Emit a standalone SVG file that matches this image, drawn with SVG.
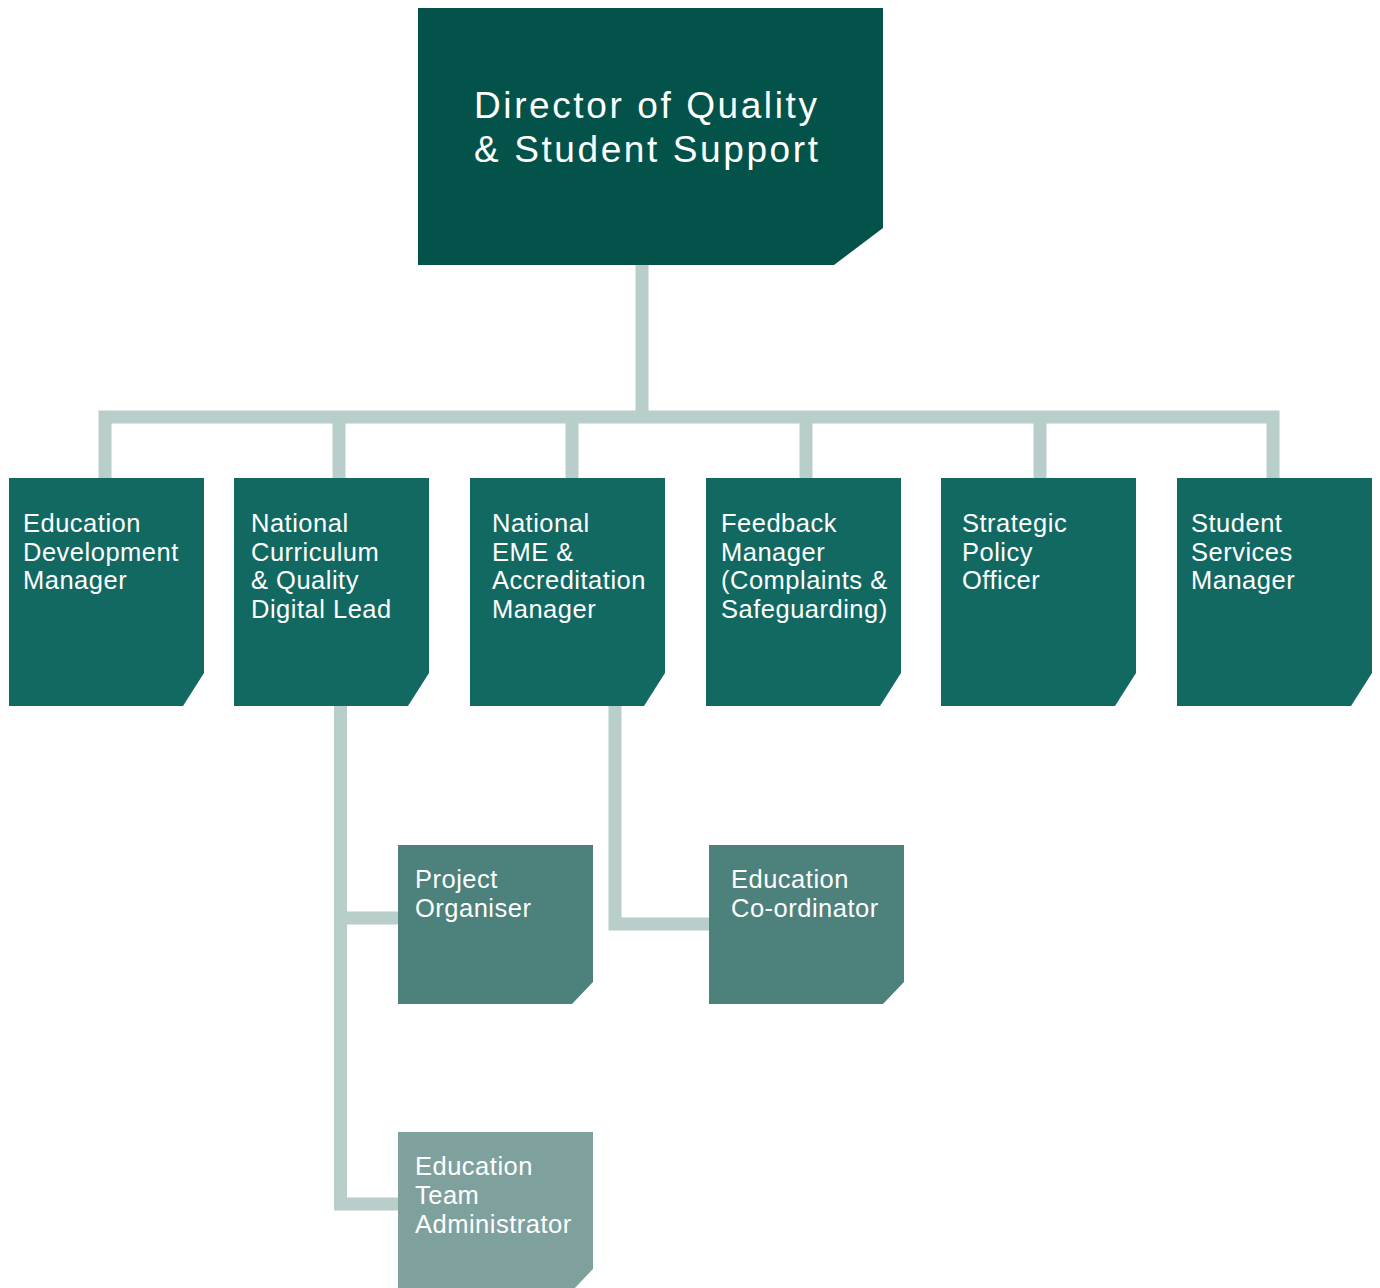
<svg xmlns="http://www.w3.org/2000/svg" width="1380" height="1288" viewBox="0 0 1380 1288">
<style>
.c{fill:none;stroke:#b8ceca;stroke-width:13;stroke-linejoin:miter;stroke-linecap:butt}
.t{font-family:"Liberation Sans",Arial,sans-serif;fill:#ffffff}
.top{font-size:37px;letter-spacing:2.6px}
.s{font-size:25.5px;letter-spacing:0.5px}
.l1{fill:#03534b}.l2{fill:#126962}.l3{fill:#4d817c}.l4{fill:#7fa19e}
</style>
<rect width="1380" height="1288" fill="#ffffff"/>
<g id="connectors">
<path class="c" d="M642,265 V417"/>
<path class="c" d="M105,478 V417 H1273 V478"/>
<path class="c" d="M339,417 V478"/>
<path class="c" d="M572,417 V478"/>
<path class="c" d="M806,417 V478"/>
<path class="c" d="M1040,417 V478"/>
<path class="c" d="M340.5,706 V1204 H398"/>
<path class="c" d="M340.5,918 H398"/>
<path class="c" d="M615,706 V924 H709"/>
</g>
<g id="director">
<polygon class="l1" points="418,8 883,8 883,228 834,265 418,265"/>
<text class="t top" x="474" y="118">Director of Quality</text>
<text class="t top" x="474" y="162">&amp; Student Support</text>
</g>
<g id="edu-dev-manager">
<polygon class="l2" points="9,478 204,478 204,673 183,706 9,706"/>
<text class="t s" x="23" y="532">Education</text>
<text class="t s" x="23" y="561">Development</text>
<text class="t s" x="23" y="589">Manager</text>
</g>
<g id="national-curriculum">
<polygon class="l2" points="234,478 429,478 429,673 408,706 234,706"/>
<text class="t s" x="251" y="532">National</text>
<text class="t s" x="251" y="561">Curriculum</text>
<text class="t s" x="251" y="589">&amp; Quality</text>
<text class="t s" x="251" y="618">Digital Lead</text>
</g>
<g id="national-eme">
<polygon class="l2" points="470,478 665,478 665,673 644,706 470,706"/>
<text class="t s" x="492" y="532">National</text>
<text class="t s" x="492" y="561">EME &amp;</text>
<text class="t s" x="492" y="589">Accreditation</text>
<text class="t s" x="492" y="618">Manager</text>
</g>
<g id="feedback-manager">
<polygon class="l2" points="706,478 901,478 901,673 880,706 706,706"/>
<text class="t s" x="721" y="532">Feedback</text>
<text class="t s" x="721" y="561">Manager</text>
<text class="t s" x="721" y="589">(Complaints &amp;</text>
<text class="t s" x="721" y="618">Safeguarding)</text>
</g>
<g id="strategic-policy">
<polygon class="l2" points="941,478 1136,478 1136,673 1115,706 941,706"/>
<text class="t s" x="962" y="532">Strategic</text>
<text class="t s" x="962" y="561">Policy</text>
<text class="t s" x="962" y="589">Officer</text>
</g>
<g id="student-services">
<polygon class="l2" points="1177,478 1372,478 1372,673 1351,706 1177,706"/>
<text class="t s" x="1191" y="532">Student</text>
<text class="t s" x="1191" y="561">Services</text>
<text class="t s" x="1191" y="589">Manager</text>
</g>
<g id="project-organiser">
<polygon class="l3" points="398,845 593,845 593,982 572,1004 398,1004"/>
<text class="t s" x="415" y="888">Project</text>
<text class="t s" x="415" y="917">Organiser</text>
</g>
<g id="edu-coordinator">
<polygon class="l3" points="709,845 904,845 904,982 883,1004 709,1004"/>
<text class="t s" x="731" y="888">Education</text>
<text class="t s" x="731" y="917">Co-ordinator</text>
</g>
<g id="edu-team-admin">
<polygon class="l4" points="398,1132 593,1132 593,1269 572,1291 398,1291"/>
<text class="t s" x="415" y="1175">Education</text>
<text class="t s" x="415" y="1204">Team</text>
<text class="t s" x="415" y="1233">Administrator</text>
</g>
</svg>
